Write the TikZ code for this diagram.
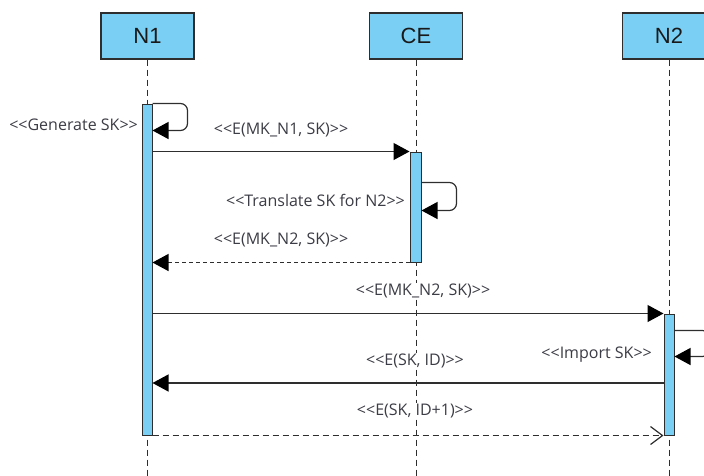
\documentclass[tikz,border=0pt]{standalone}
\usepackage{fontspec}
\setmainfont{Open Sans}
\newfontfamily\headfont{Liberation Sans}
\usetikzlibrary{arrows.meta}
\definecolor{boxblue}{HTML}{79CFF4}
\definecolor{lbl}{HTML}{3C3C46}
\definecolor{ln}{HTML}{2E2E2E}
\newcommand{\lt}{{<}{<}}
\newcommand{\gt}{{>}{>}}
\begin{document}
\begin{tikzpicture}[x=1pt,y=-1pt,
  head/.style={draw=ln, fill=boxblue, line width=1.3pt, minimum width=93pt, minimum height=46pt,
    inner sep=0pt, font=\headfont\fontsize{22}{24}\selectfont, text=black!90},
  life/.style={draw=ln, line width=1pt, dash pattern=on 6pt off 4pt},
  actbar/.style={draw=ln, fill=boxblue, line width=1pt, inner sep=0pt},
  msg/.style={draw=ln, line width=1.2pt, -{Triangle[length=16pt,width=17pt,color=black,fill=black]}},
  rmsg/.style={msg, dash pattern=on 4pt off 3pt},
  omsg/.style={draw=ln, line width=1.2pt, dash pattern=on 6pt off 4pt, -{Straight Barb[length=12pt,width=18pt,line width=1.2pt]}},
  lab/.style={font=\fontsize{16}{18}\selectfont, text=lbl, inner sep=1pt, fill=white}]
\useasboundingbox (0,0) rectangle (704,475);
\clip (0,0) rectangle (704,475);
% lifeline heads
\node[head] (n1) at (147.5,36) {N1};
\node[head] (ce) at (416,36) {CE};
\node[head] (n2) at (669,36) {N2};
\coordinate (bot) at (0,480);
\draw[life] (n1.south) -- (n1 |- bot);
\draw[life] (ce.south) -- (ce |- bot);
\draw[life] (n2.south) -- (n2 |- bot);
% activation bars
\node[actbar, minimum width=10pt, minimum height=331pt] (a1) at (147,269.5) {};
\node[actbar, minimum width=11pt, minimum height=110pt] (a2) at (415.5,207) {};
\node[actbar, minimum width=10pt, minimum height=121pt] (a3) at (669,374.5) {};
% self loop N1
\draw[msg, rounded corners=7pt] (a1.north east) -- ++(35,0) -- ++(0,27) -- ++(-35,0);
\node[lab, anchor=east] (gen) at (139,125) {\lt Generate SK\gt};
% N1 -> CE
\draw[msg] (a1.east |- a2.north) -- (a2.north west);
\node[lab] (m1) at (281,130) {\lt E(MK\_N1, SK)\gt};
% self loop CE
\draw[msg, rounded corners=7pt] ([yshift=-31pt]a2.north east) -- ++(35,0) -- ++(0,28) -- ++(-35,0);
\node[lab, anchor=east] (tr) at (406,200) {\lt Translate SK for N2\gt};
% CE -> N1 return
\draw[rmsg] (a2.south west) -- (a1.east |- a2.south);
\node[lab] (m2) at (281,240) {\lt E(MK\_N2, SK)\gt};
% N1 -> N2
\draw[msg] (a1.east |- a3.north) -- (a3.north west);
\node[lab] (m3) at (423,291) {\lt E(MK\_N2, SK)\gt};
% self loop N2
\draw[msg, rounded corners=7pt] ([yshift=-17pt]a3.north east) -- ++(35,0) -- ++(0,26) -- ++(-35,0);
\node[lab, anchor=east] (imp) at (653,355) {\lt Import SK\gt};
% N2 -> N1
\coordinate (y4) at (0,383);
\draw[msg] (a3.west |- y4) -- (a1.east |- y4);
\node[lab] (m4) at (415,361) {\lt E(SK, ID)\gt};
% N1 -> N2 dashed open
\draw[omsg] (a1.south east) -- (a3.south west);
\node[lab] (m5) at (415,411) {\lt E(SK, ID+1)\gt};
\end{tikzpicture}
\end{document}
